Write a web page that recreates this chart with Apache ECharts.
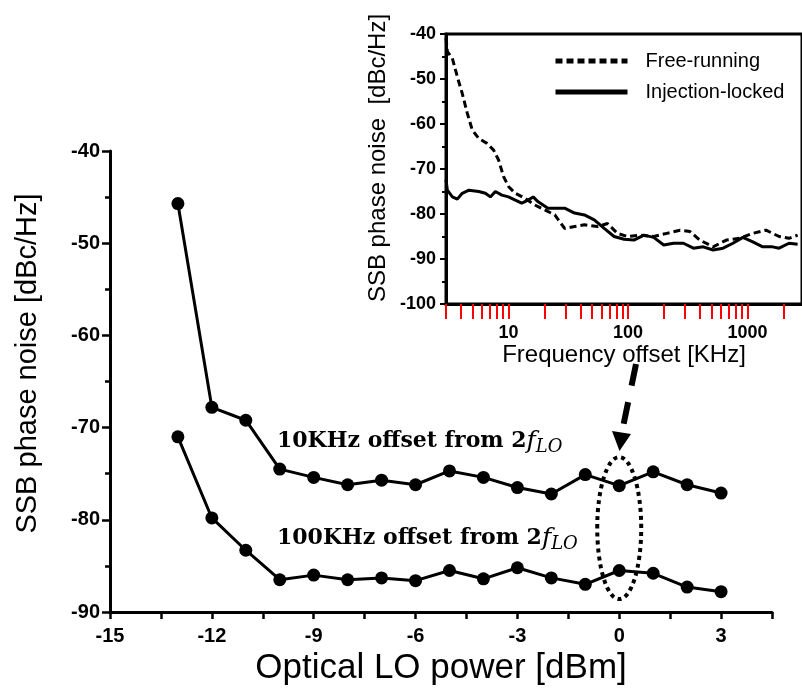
<!DOCTYPE html>
<html>
<head>
<meta charset="utf-8">
<script src="https://cdn.jsdelivr.net/npm/echarts@6/dist/echarts.min.js"></script>
<style>
  html, body { margin: 0; padding: 0; background: #fff; }
  #chart { width: 802px; height: 694px; }
</style>
</head>
<body>
<div id="chart"></div>
<script>
// main plot: phase noise vs optical LO power
const powerDbm = [-13, -12, -11, -10, -9, -8, -7, -6, -5, -4, -3, -2, -1, 0, 1, 2, 3]
const noise10k = [-45.7, -67.8, -69.2, -74.5, -75.4, -76.2, -75.7, -76.2, -74.7, -75.4, -76.5, -77.2, -75.1, -76.3, -74.8, -76.2, -77.1]
const noise100k = [-71.0, -79.8, -83.3, -86.5, -86.0, -86.5, -86.3, -86.6, -85.5, -86.4, -85.2, -86.3, -87.0, -85.5, -85.8, -87.3, -87.8]

// inset: spectrum of the phase noise
const freeFreq = [3.0, 3.08, 3.39, 3.73, 4.1, 4.52, 4.97, 5.63, 6.61, 7.51, 8.26, 9.1, 10, 11.4, 13.7, 16.6, 20.1, 24.4, 29.5, 35.7, 43.2, 55.7, 67.3, 81.5, 98.6, 127, 164, 211, 273, 330, 399, 515, 665, 858, 1107, 1427, 1838, 2223, 2626]
const freeNoise = [-40.9, -43.9, -45.4, -49.5, -53.2, -57.6, -61.3, -63.2, -64.3, -65.8, -68.0, -71.7, -73.9, -75.4, -76.5, -78.0, -79.1, -80.2, -83.2, -82.8, -82.4, -82.8, -82.1, -84.3, -85.0, -84.7, -85.0, -84.3, -83.6, -83.9, -85.8, -87.3, -85.8, -85.4, -84.3, -83.6, -85.0, -85.4, -84.7]
const lockFreq = [3.0, 3.08, 3.39, 3.73, 4.1, 4.67, 5.63, 6.41, 7.05, 7.76, 8.81, 10, 11.4, 12.9, 14.6, 16.1, 17.7, 21.4, 25.1, 29.5, 35.7, 43.2, 52.2, 63.2, 76.5, 92.7, 112, 136, 164, 199, 240, 291, 352, 426, 515, 624, 755, 914, 1107, 1340, 1622, 1838, 2223, 2626]
const lockNoise = [-72.4, -74.7, -76.2, -76.7, -75.4, -74.7, -75.0, -75.4, -76.2, -75.0, -75.8, -76.2, -76.9, -77.6, -76.9, -76.2, -77.3, -78.7, -78.7, -78.7, -79.8, -80.2, -81.3, -83.2, -85.0, -85.6, -85.8, -84.7, -85.2, -86.9, -86.5, -86.5, -87.6, -87.3, -88.0, -87.6, -86.5, -85.2, -86.2, -87.3, -87.3, -87.6, -86.5, -86.7]

const insetLabels = [10, 100, 1000]
const insetTicks = [3, 4, 5, 6, 7, 8, 9, 10, 20, 30, 40, 50, 60, 70, 80, 90, 100, 200, 300, 400, 500, 600, 700, 800, 900, 1000, 2000]

const sans = "Liberation Sans, Arial, sans-serif"
const serif = "DejaVu Serif, serif"

let myChart = echarts.init(document.getElementById("chart"))

function pairs(xs, ys) {
    return xs.map((x, i) => [x, ys[i]])
}

let option = {
    backgroundColor: "#fff",
    animation: false,
    grid: [
        { left: 110, right: 30, top: 151, bottom: 82 },
        { left: 446, right: -4, top: 34, bottom: 390, show: true, borderColor: "#000", borderWidth: 3 }
    ],
    legend: {
        data: ["Free-running", "Injection-locked"],
        orient: "vertical",
        left: 548,
        top: 46,
        itemWidth: 72,
        itemHeight: 20,
        itemGap: 11,
        itemStyle: { opacity: 0 },
        lineStyle: { width: 5, opacity: 1 },
        textStyle: { fontFamily: sans, fontSize: 20, color: "#000", padding: [0, 0, 0, 13] }
    },
    xAxis: [
        {
            gridIndex: 0,
            type: "value",
            min: -15,
            max: 4.5,
            interval: 1.5,
            name: "Optical LO power [dBm]",
            nameLocation: "middle",
            nameGap: 38,
            nameTextStyle: { fontFamily: sans, fontSize: 35, color: "#000" },
            axisLine: { onZero: false, lineStyle: { color: "#000", width: 3 } },
            axisTick: { length: 7, lineStyle: { width: 2.5 } },
            axisLabel: {
                margin: 14,
                fontFamily: sans, fontSize: 20, fontWeight: "bold", color: "#000",
                formatter: v => (v % 3 === 0 && v <= 3) ? String(v) : ""
            },
            splitLine: { show: false }
        },
        {
            gridIndex: 1,
            type: "log",
            min: 3,
            max: 2856,
            name: "Frequency offset [KHz]",
            nameLocation: "middle",
            nameGap: 31,
            nameTextStyle: { fontFamily: sans, fontSize: 24, color: "#000" },
            axisLine: { lineStyle: { color: "#000", width: 3 } },
            axisTick: { show: true, length: 15, customValues: insetTicks, lineStyle: { width: 2, color: "red" } },
            axisLabel: {
                customValues: insetLabels,
                margin: 20,
                fontFamily: sans, fontSize: 18, fontWeight: "bold", color: "#000",
                formatter: v => String(v)
            },
            splitLine: { show: false }
        }
    ],
    yAxis: [
        {
            gridIndex: 0,
            type: "value",
            min: -90,
            max: -40,
            interval: 10,
            name: "SSB phase noise [dBc/Hz]",
            nameLocation: "middle",
            nameGap: 68,
            nameTextStyle: { fontFamily: sans, fontSize: 29, color: "#000", padding: [0, 0, 0, 36] },
            axisLine: { show: true, onZero: false, lineStyle: { color: "#000", width: 3 } },
            axisTick: { show: true, length: 8, lineStyle: { width: 2.5 } },
            minorTick: { show: true, splitNumber: 2, length: 5, lineStyle: { width: 2.5, color: "#000" } },
            axisLabel: { margin: 10, fontFamily: sans, fontSize: 20, fontWeight: "bold", color: "#000" },
            splitLine: { show: false }
        },
        {
            gridIndex: 1,
            type: "value",
            min: -100,
            max: -40,
            interval: 10,
            name: "SSB phase noise  [dBc/Hz]",
            nameLocation: "middle",
            nameGap: 56,
            nameTextStyle: { fontFamily: sans, fontSize: 24, color: "#000", padding: [0, 0, 0, 22] },
            axisLine: { show: true, onZero: false, lineStyle: { color: "#000", width: 3 } },
            axisTick: { show: true, length: 6, lineStyle: { width: 2 } },
            minorTick: { show: true, splitNumber: 2, length: 4, lineStyle: { width: 2, color: "#000" } },
            axisLabel: { margin: 10, fontFamily: sans, fontSize: 18, fontWeight: "bold", color: "#000" },
            splitLine: { show: false }
        }
    ],
    series: [
        {
            name: "10KHz",
            type: "line",
            xAxisIndex: 0,
            yAxisIndex: 0,
            data: pairs(powerDbm, noise10k),
            symbol: "circle",
            symbolSize: 13,
            itemStyle: { color: "#000" },
            lineStyle: { color: "#000", width: 3 }
        },
        {
            name: "100KHz",
            type: "line",
            xAxisIndex: 0,
            yAxisIndex: 0,
            data: pairs(powerDbm, noise100k),
            symbol: "circle",
            symbolSize: 13,
            itemStyle: { color: "#000" },
            lineStyle: { color: "#000", width: 3 }
        },
        {
            name: "Free-running",
            type: "line",
            xAxisIndex: 1,
            yAxisIndex: 1,
            data: pairs(freeFreq, freeNoise),
            symbol: "none",
            itemStyle: { color: "#000" },
            lineStyle: { color: "#000", width: 3, type: [7, 4] }
        },
        {
            name: "Injection-locked",
            type: "line",
            xAxisIndex: 1,
            yAxisIndex: 1,
            data: pairs(lockFreq, lockNoise),
            symbol: "none",
            itemStyle: { color: "#000" },
            lineStyle: { color: "#000", width: 3 }
        }
    ]
}
myChart.setOption(option)

// annotations: labels, dotted ellipse round the 0 dBm points, arrow to the inset
let c = myChart.convertToPixel({ xAxisIndex: 0, yAxisIndex: 0 }, [0, -80.9])
let label = (txt, y) => ({
    type: "text",
    x: 277,
    y: y,
    style: {
        text: "{b|" + txt + "}{f|f}{s|LO}",
        verticalAlign: "middle",
        rich: {
            b: { fontFamily: serif, fontWeight: "bold", fontSize: 22, lineHeight: 30, fill: "#000" },
            f: { fontFamily: serif, fontStyle: "italic", fontSize: 25, lineHeight: 30, fill: "#000" },
            s: { fontFamily: serif, fontStyle: "italic", fontSize: 18, lineHeight: 18, verticalAlign: "bottom", fill: "#000" }
        }
    }
})
myChart.setOption({
    graphic: [
        label("10KHz offset from 2", 441),
        label("100KHz offset from 2", 538),
        {
            type: "ellipse",
            shape: { cx: c[0], cy: c[1], rx: 22, ry: 71 },
            style: { fill: null, stroke: "#000", lineWidth: 4, lineDash: [4, 4] }
        },
        {
            type: "line",
            shape: { x1: 636, y1: 364, x2: 622, y2: 432 },
            style: { stroke: "#000", lineWidth: 6, lineDash: [22, 17] }
        },
        {
            type: "polygon",
            shape: { points: [[612, 431], [631, 434], [619.5, 451]] },
            style: { fill: "#000" }
        }
    ]
})
</script>
</body>
</html>
